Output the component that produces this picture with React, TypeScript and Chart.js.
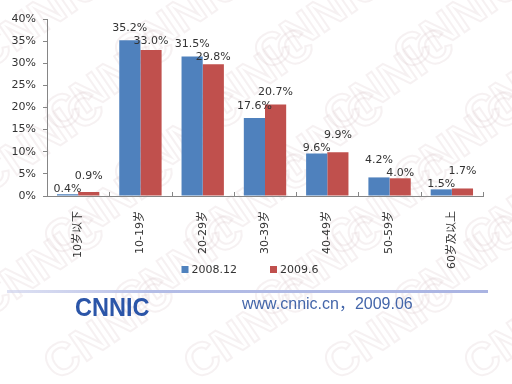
import React, { useEffect, useRef } from "react";
import { Chart, registerables } from "chart.js";

Chart.register(...registerables);

const categories = ["10岁以下", "10-19岁", "20-29岁", "30-39岁", "40-49岁", "50-59岁", "60岁及以上"];
const series2008 = [0.4, 35.2, 31.5, 17.6, 9.6, 4.2, 1.5];
const series2009 = [0.9, 33.0, 29.8, 20.7, 9.9, 4.0, 1.7];
const seriesNames = ["2008.12", "2009.6"];
const seriesColors = ["#4F81BD", "#C0504D"];
const yMax = 40;
const yStep = 5;
const logoText = "CNNIC";
const footerText = "www.cnnic.cn，2009.06";

const FONT = "'DejaVu Sans', 'Noto Sans CJK SC', sans-serif";

const bgPlugin = {
  id: "bgWatermark",
  beforeDraw(chart: any) {
    const ctx = chart.ctx;
    ctx.save();
    ctx.fillStyle = "#ffffff";
    ctx.fillRect(0, 0, chart.width, chart.height);
    ctx.strokeStyle = "rgba(215, 190, 196, 0.22)";
    ctx.lineWidth = 2;
    ctx.font = "bold 46px 'Liberation Sans', sans-serif";
    ctx.textAlign = "center";
    ctx.textBaseline = "middle";
    for (let r = 0; r < 6; r++) {
      for (let c = 0; c < 5; c++) {
        const x = 40 + c * 140 + (r % 2) * 70;
        const y = 20 + r * 62;
        ctx.save();
        ctx.translate(x, y);
        ctx.rotate(-0.6);
        ctx.strokeText(logoText, 0, 0);
        ctx.restore();
      }
    }
    ctx.restore();
  },
};

const labelPlugin = {
  id: "valueLabels",
  afterDatasetsDraw(chart: any) {
    const ctx = chart.ctx;
    const xs = chart.scales.x;
    ctx.save();
    ctx.strokeStyle = "#868686";
    ctx.lineWidth = 1;
    for (let i = 0; i <= categories.length; i++) {
      const px = Math.round(xs.getPixelForValue(i - 0.5)) + 0.5;
      ctx.beginPath();
      ctx.moveTo(px, xs.top);
      ctx.lineTo(px, xs.top - 4);
      ctx.stroke();
    }
    ctx.restore();

    ctx.save();
    ctx.font = "11px " + FONT;
    ctx.fillStyle = "#333333";
    ctx.textAlign = "center";
    ctx.textBaseline = "middle";
    const m0 = chart.getDatasetMeta(0).data;
    const m1 = chart.getDatasetMeta(1).data;
    const d = chart.data.datasets;
    for (let i = 0; i < categories.length; i++) {
      const a = m0[i];
      const b = m1[i];
      let ya = a.y - 12;
      let yb = b.y - 12;
      const aTaller = a.y <= b.y;
      let yT = aTaller ? ya : yb;
      let yS = aTaller ? yb : ya;
      const barS = aTaller ? b.y : a.y;
      if (yS - yT < 13) {
        yS = Math.min(yT + 13, barS - 5);
        yT = yS - 13;
      }
      if (aTaller) { ya = yT; yb = yS; } else { yb = yT; ya = yS; }
      ctx.fillText(d[0].data[i].toFixed(1) + "%", a.x, ya);
      ctx.fillText(d[1].data[i].toFixed(1) + "%", b.x, yb);
    }
    ctx.restore();
  },
};

const legendPlugin = {
  id: "customLegend",
  afterDraw(chart: any) {
    const ctx = chart.ctx;
    ctx.save();
    ctx.font = "11px " + FONT;
    ctx.textBaseline = "middle";
    ctx.textAlign = "left";
    const box = 7;
    const gapText = 3;
    const gapItem = 33;
    const items = chart.data.datasets.map((ds: any) => ({
      text: ds.label,
      color: ds.backgroundColor,
      w: box + gapText + ctx.measureText(ds.label).width,
    }));
    const total = items.reduce((s: number, it: any) => s + it.w, 0) + gapItem * (items.length - 1);
    let x = 250 - total / 2;
    const cy = 270;
    items.forEach((it: any) => {
      ctx.fillStyle = it.color;
      ctx.fillRect(x, cy - 4, box, box);
      ctx.fillStyle = "#333333";
      ctx.fillText(it.text, x + box + gapText, cy);
      x += it.w + gapItem;
    });
    ctx.restore();
  },
};

const footerPlugin = {
  id: "footer",
  afterDraw(chart: any) {
    const ctx = chart.ctx;
    ctx.save();
    const g = ctx.createLinearGradient(7, 0, 488, 0);
    g.addColorStop(0, "rgba(200,205,235,0.6)");
    g.addColorStop(0.3, "#b4bde6");
    g.addColorStop(1, "#aab4e2");
    ctx.fillStyle = g;
    ctx.fillRect(7, 290, 481, 3);
    ctx.save();
    ctx.translate(75, 309);
    ctx.scale(0.84, 0.92);
    ctx.fillStyle = "#2b55a8";
    ctx.font = "bold 28px 'Liberation Sans', sans-serif";
    ctx.textBaseline = "middle";
    ctx.textAlign = "left";
    ctx.fillText(logoText, 0, 0);
    ctx.restore();
    ctx.fillStyle = "#4466aa";
    ctx.font = "16px 'Liberation Sans', 'Noto Sans CJK SC', sans-serif";
    ctx.textBaseline = "middle";
    ctx.textAlign = "left";
    ctx.fillText(footerText, 242, 305);
    ctx.restore();
  },
};

export default function App() {
  const ref = useRef<HTMLCanvasElement>(null);
  useEffect(() => {
    if (!ref.current) return;
    const chart = new Chart(ref.current, {
      type: "bar",
      data: {
        labels: categories,
        datasets: [
          { label: seriesNames[0], data: series2008, backgroundColor: seriesColors[0], borderWidth: 0 },
          { label: seriesNames[1], data: series2009, backgroundColor: seriesColors[1], borderWidth: 0 },
        ],
      },
      options: {
        responsive: false,
        animation: false,
        layout: { padding: { left: 0, right: 29, top: 19, bottom: 106 } },
        datasets: { bar: { categoryPercentage: 0.68, barPercentage: 1.0 } },
        plugins: {
          legend: { display: false },
          tooltip: { enabled: false },
        },
        scales: {
          x: {
            grid: { display: true, drawOnChartArea: false, drawTicks: false, color: "#868686" },
            border: { display: true, color: "#868686" },
            ticks: {
              minRotation: 90,
              maxRotation: 90,
              padding: 15,
              color: "#333333",
              font: { size: 11, family: FONT },
              autoSkip: false,
            },
            afterFit: (s: any) => { s.height = 82; },
          },
          y: {
            min: 0,
            max: yMax,
            grid: { display: true, drawOnChartArea: false, tickLength: 4, color: "#868686" },
            border: { display: true, color: "#868686" },
            ticks: {
              stepSize: yStep,
              padding: 7,
              color: "#333333",
              font: { size: 11, family: FONT },
              callback: (v: any) => v + "%",
            },
            afterFit: (s: any) => { s.width = 47; },
          },
        },
      },
      plugins: [bgPlugin, labelPlugin, legendPlugin, footerPlugin],
    });
    return () => chart.destroy();
  }, []);
  return (
    <div style={{ position: "fixed", left: 0, top: 0, width: 512, height: 384, background: "#fff" }}>
      <canvas ref={ref} width={512} height={384} />
    </div>
  );
}
